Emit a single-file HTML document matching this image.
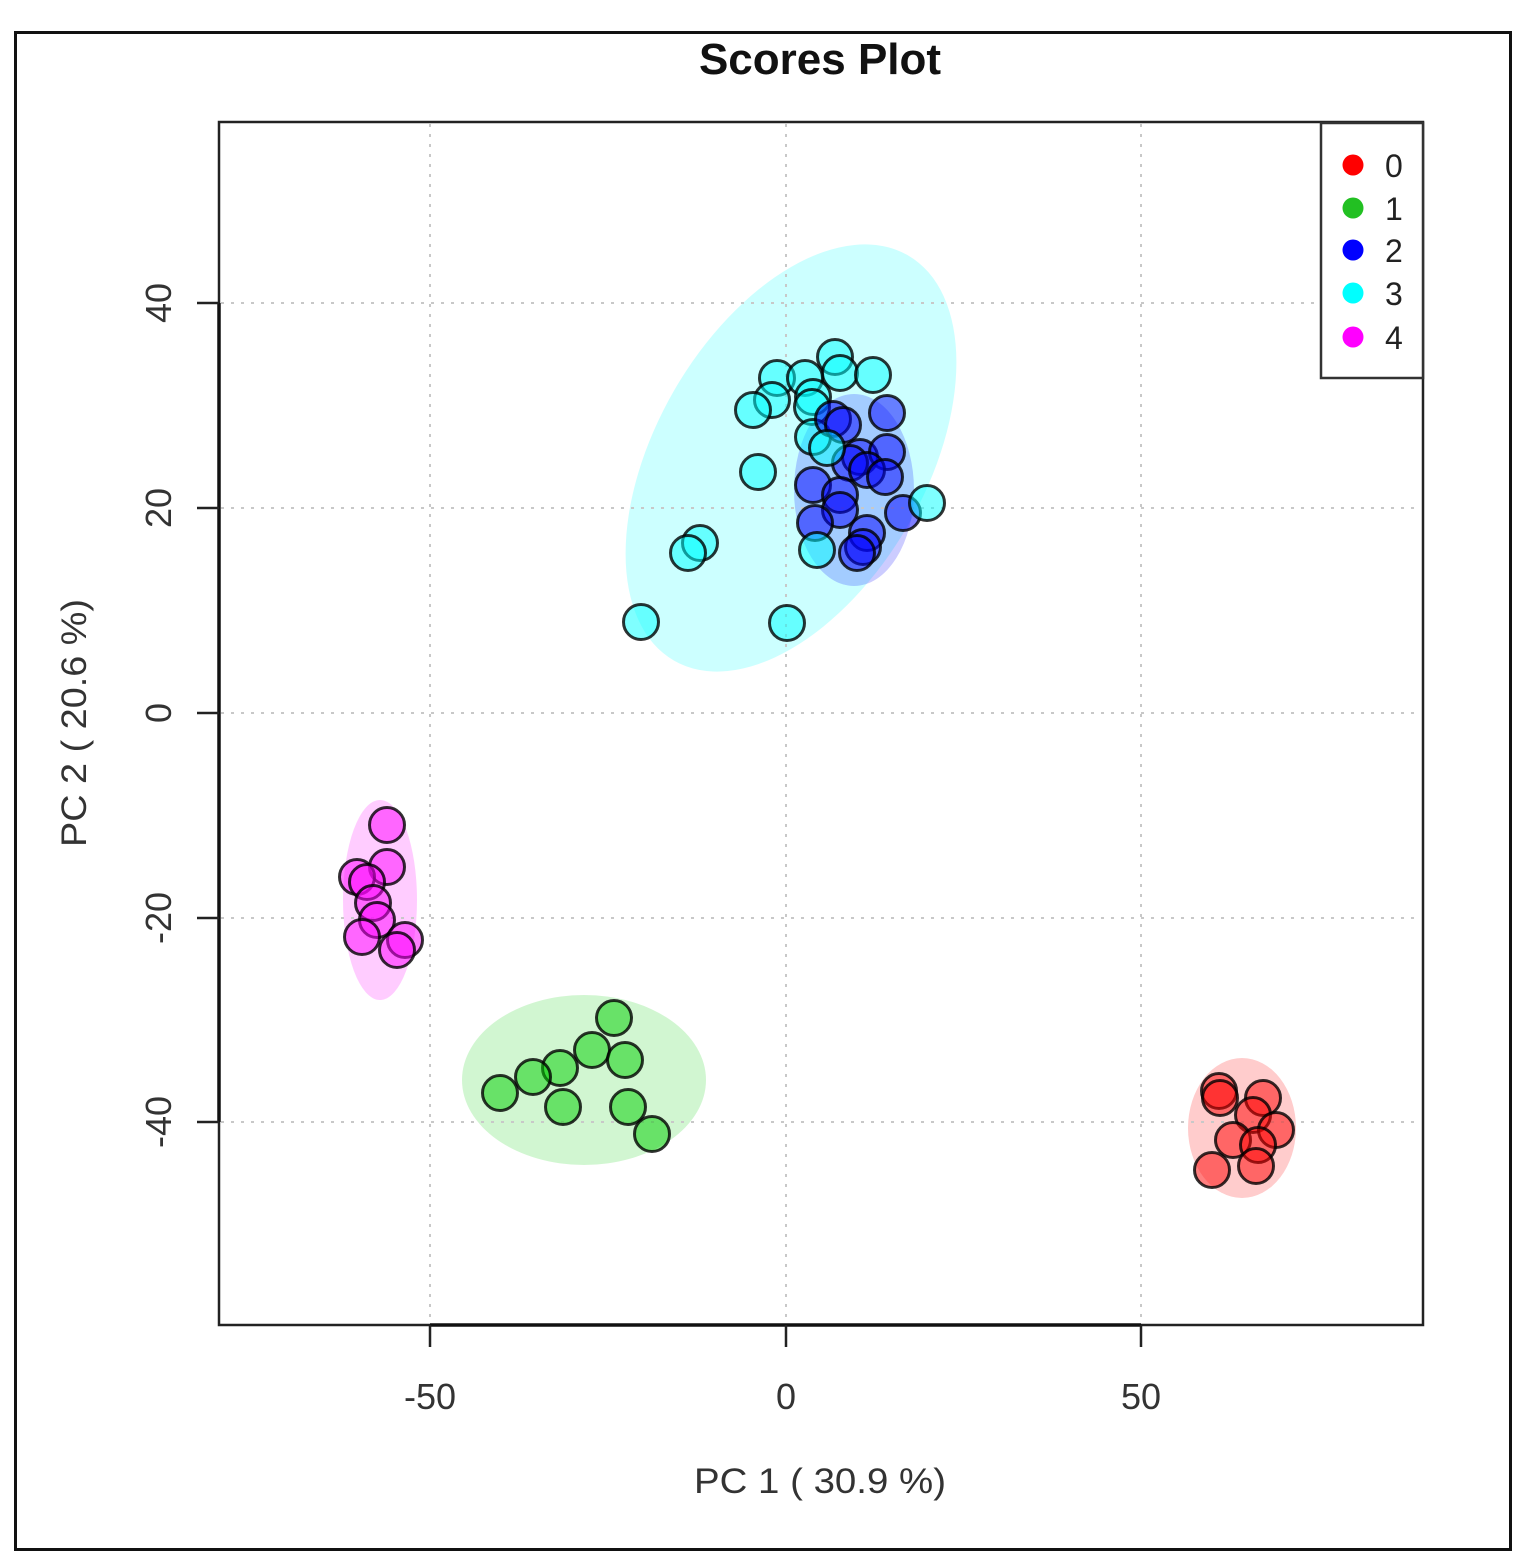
<!DOCTYPE html>
<html>
<head>
<meta charset="utf-8">
<style>
html,body{margin:0;padding:0;background:#fff;}
svg{display:block;}
text{font-family:"Liberation Sans",Arial,sans-serif;}
</style>
</head>
<body>
<svg width="1530" height="1552" viewBox="0 0 1530 1552" xmlns="http://www.w3.org/2000/svg">
<rect x="0" y="0" width="1530" height="1552" fill="#fff"/>
<!-- outer frame -->
<rect x="15.5" y="32.5" width="1495" height="1517" fill="none" stroke="#111" stroke-width="3"/>

<!-- title -->
<text x="820" y="74" text-anchor="middle" font-size="44" font-weight="bold" fill="#111">Scores Plot</text>

<!-- ellipses -->
<ellipse cx="791" cy="458" rx="234" ry="135" transform="rotate(-60 791 458)" fill="rgb(0,255,255)" fill-opacity="0.2"/>
<ellipse cx="854" cy="490" rx="60" ry="96" fill="rgb(0,0,255)" fill-opacity="0.2"/>
<ellipse cx="380" cy="900" rx="37" ry="100" fill="rgb(255,0,255)" fill-opacity="0.2"/>
<ellipse cx="584" cy="1080" rx="122" ry="85" fill="rgb(0,205,0)" fill-opacity="0.18"/>
<ellipse cx="1242" cy="1128" rx="54" ry="70" fill="rgb(255,0,0)" fill-opacity="0.2"/>

<!-- grid -->
<g stroke="#c8c8c8" stroke-width="2" stroke-dasharray="3,7" fill="none">
<line x1="430" y1="124" x2="430" y2="1323"/>
<line x1="786" y1="124" x2="786" y2="1323"/>
<line x1="1141" y1="124" x2="1141" y2="1323"/>
<line x1="221" y1="303" x2="1421" y2="303"/>
<line x1="221" y1="508" x2="1421" y2="508"/>
<line x1="221" y1="713" x2="1421" y2="713"/>
<line x1="221" y1="918" x2="1421" y2="918"/>
<line x1="221" y1="1122" x2="1421" y2="1122"/>
</g>

<!-- points -->
<g stroke="rgba(0,0,0,0.8)" stroke-width="3">
<!-- cyan (3) -->
<g fill="rgba(0,255,255,0.5)">
<circle cx="835" cy="357" r="17.5"/>
<circle cx="840" cy="373" r="17.5"/>
<circle cx="873" cy="375" r="17.5"/>
<circle cx="777" cy="378" r="17.5"/>
<circle cx="805" cy="378" r="17.5"/>
<circle cx="772" cy="400" r="17.5"/>
<circle cx="753" cy="410" r="17.5"/>
<circle cx="813" cy="397" r="17.5"/>
<circle cx="812" cy="407" r="17.5"/>
<circle cx="813" cy="437" r="17.5"/>
<circle cx="758" cy="472" r="17.5"/>
<circle cx="700" cy="543" r="17.5"/>
<circle cx="688" cy="553" r="17.5"/>
<circle cx="641" cy="622" r="17.5"/>
<circle cx="787" cy="623" r="17.5"/>
</g>
<!-- blue (2) -->
<g fill="rgba(0,0,255,0.5)">
<circle cx="887" cy="413" r="17.5"/>
<circle cx="833" cy="419" r="17.5"/>
<circle cx="843" cy="425" r="17.5"/>
<circle cx="860" cy="457" r="17.5"/>
<circle cx="887" cy="452" r="17.5"/>
<circle cx="850" cy="463" r="17.5"/>
<circle cx="867" cy="470" r="17.5"/>
<circle cx="885" cy="477" r="17.5"/>
<circle cx="813" cy="485" r="17.5"/>
<circle cx="840" cy="495" r="17.5"/>
<circle cx="840" cy="510" r="17.5"/>
<circle cx="903" cy="513" r="17.5"/>
<circle cx="815" cy="523" r="17.5"/>
<circle cx="867" cy="533" r="17.5"/>
<circle cx="863" cy="547" r="17.5"/>
<circle cx="857" cy="553" r="17.5"/>
</g>
<!-- cyan on top -->
<g fill="rgba(0,255,255,0.5)">
<circle cx="827" cy="448" r="17.5"/>
<circle cx="817" cy="550" r="17.5"/>
<circle cx="927" cy="503" r="17.5"/>
</g>
<!-- magenta (4) -->
<g fill="rgba(255,0,255,0.5)">
<circle cx="387" cy="825" r="17.5"/>
<circle cx="387" cy="867" r="17.5"/>
<circle cx="357" cy="877" r="17.5"/>
<circle cx="367" cy="882" r="17.5"/>
<circle cx="373" cy="903" r="17.5"/>
<circle cx="377" cy="920" r="17.5"/>
<circle cx="362" cy="937" r="17.5"/>
<circle cx="405" cy="940" r="17.5"/>
<circle cx="397" cy="950" r="17.5"/>
</g>
<!-- green (1) -->
<g fill="rgba(0,205,0,0.5)">
<circle cx="614" cy="1018" r="17.5"/>
<circle cx="592" cy="1050" r="17.5"/>
<circle cx="625" cy="1060" r="17.5"/>
<circle cx="560" cy="1068" r="17.5"/>
<circle cx="533" cy="1077" r="17.5"/>
<circle cx="500" cy="1093" r="17.5"/>
<circle cx="563" cy="1107" r="17.5"/>
<circle cx="628" cy="1107" r="17.5"/>
<circle cx="652" cy="1134" r="17.5"/>
</g>
<!-- red (0) -->
<g fill="rgba(255,0,0,0.5)">
<circle cx="1219" cy="1091" r="17.5"/>
<circle cx="1220" cy="1098" r="17.5"/>
<circle cx="1263" cy="1098" r="17.5"/>
<circle cx="1253" cy="1115" r="17.5"/>
<circle cx="1276" cy="1130" r="17.5"/>
<circle cx="1233" cy="1140" r="17.5"/>
<circle cx="1258" cy="1145" r="17.5"/>
<circle cx="1212" cy="1170" r="17.5"/>
<circle cx="1256" cy="1166" r="17.5"/>
</g>
</g>

<!-- plot frame -->
<rect x="219" y="122" width="1204" height="1203" fill="none" stroke="#222" stroke-width="2.5"/>
<!-- axes -->
<g stroke="#111" stroke-width="3.5" fill="none">
<line x1="430" y1="1325" x2="1141" y2="1325"/>
<line x1="219" y1="303" x2="219" y2="1122"/>
</g>
<g stroke="#222" stroke-width="2.5">
<line x1="430" y1="1325" x2="430" y2="1347"/>
<line x1="786" y1="1325" x2="786" y2="1347"/>
<line x1="1141" y1="1325" x2="1141" y2="1347"/>
<line x1="197" y1="303" x2="219" y2="303"/>
<line x1="197" y1="508" x2="219" y2="508"/>
<line x1="197" y1="713" x2="219" y2="713"/>
<line x1="197" y1="918" x2="219" y2="918"/>
<line x1="197" y1="1122" x2="219" y2="1122"/>
</g>

<!-- x tick labels -->
<g font-size="36" fill="#333" text-anchor="middle">
<text x="430" y="1409">-50</text>
<text x="786" y="1409">0</text>
<text x="1141" y="1409">50</text>
</g>
<!-- y tick labels -->
<g font-size="36" fill="#333" text-anchor="middle">
<text transform="translate(171,303) rotate(-90)">40</text>
<text transform="translate(171,508) rotate(-90)">20</text>
<text transform="translate(171,713) rotate(-90)">0</text>
<text transform="translate(171,918) rotate(-90)">-20</text>
<text transform="translate(171,1122) rotate(-90)">-40</text>
</g>

<!-- axis labels -->
<text x="820" y="1493" font-size="35" fill="#333" text-anchor="middle" textLength="252" lengthAdjust="spacingAndGlyphs">PC 1 ( 30.9 %)</text>
<text transform="translate(86,723) rotate(-90)" font-size="35" fill="#333" text-anchor="middle" textLength="248" lengthAdjust="spacingAndGlyphs">PC 2 ( 20.6 %)</text>

<!-- legend -->
<rect x="1321" y="123" width="102" height="255" fill="#fff" stroke="#333" stroke-width="2.5"/>
<circle cx="1353" cy="165" r="10.5" fill="#ff0000"/>
<circle cx="1353" cy="208" r="10.5" fill="#22c022"/>
<circle cx="1353" cy="250" r="10.5" fill="#0000ff"/>
<circle cx="1353" cy="293" r="10.5" fill="#00ffff"/>
<circle cx="1353" cy="337" r="10.5" fill="#ff00ff"/>
<g font-size="32" fill="#222">
<text x="1385" y="177">0</text>
<text x="1385" y="220">1</text>
<text x="1385" y="262">2</text>
<text x="1385" y="305">3</text>
<text x="1385" y="349">4</text>
</g>
</svg>
</body>
</html>
